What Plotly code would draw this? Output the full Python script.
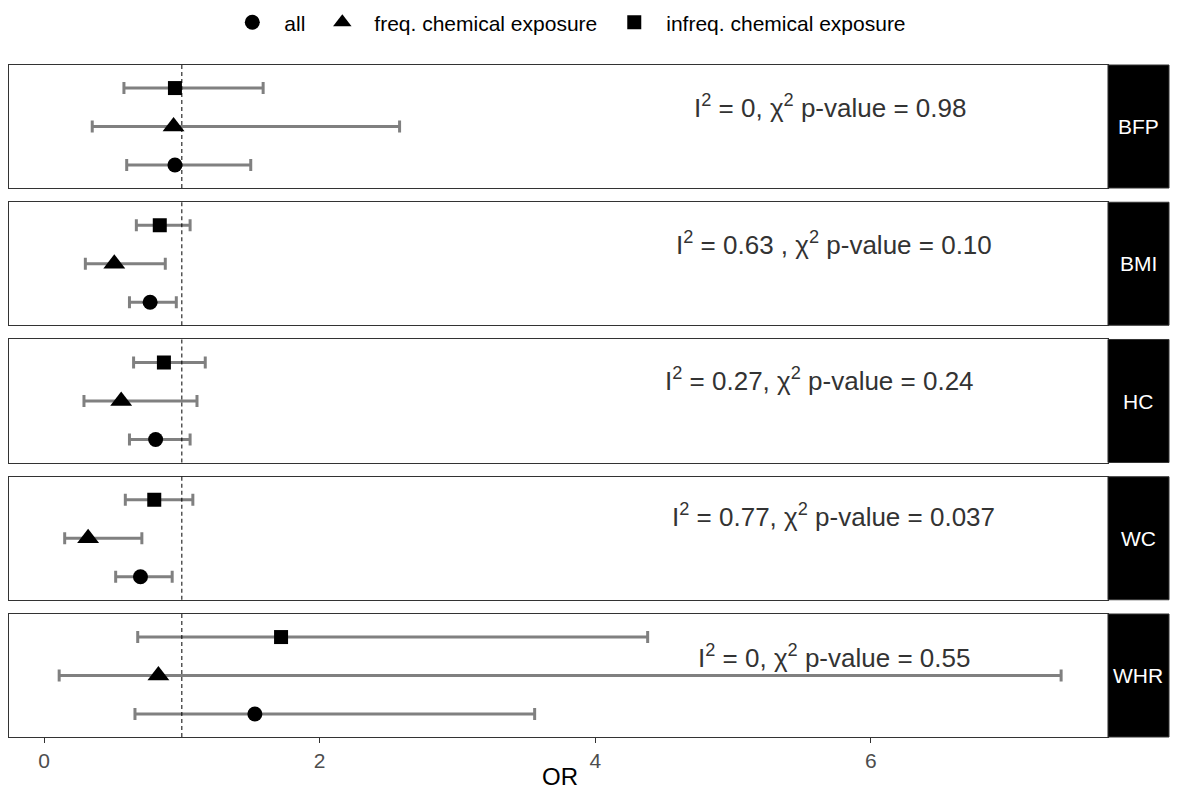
import plotly.graph_objects as go
from plotly.subplots import make_subplots

# ---- data ----
panels = ["BFP", "BMI", "HC", "WC", "WHR"]
groups = ["all", "freq. chemical exposure", "infreq. chemical exposure"]

or_all = [0.95, 0.77, 0.81, 0.70, 1.53]
lo_all = [0.60, 0.62, 0.62, 0.52, 0.66]
hi_all = [1.50, 0.96, 1.06, 0.93, 3.56]

or_freq = [0.94, 0.51, 0.56, 0.32, 0.83]
lo_freq = [0.35, 0.30, 0.29, 0.15, 0.11]
hi_freq = [2.58, 0.88, 1.11, 0.71, 7.38]

or_infreq = [0.95, 0.84, 0.87, 0.80, 1.72]
lo_infreq = [0.58, 0.67, 0.65, 0.59, 0.68]
hi_infreq = [1.59, 1.06, 1.17, 1.08, 4.38]

het_labels = [
    "I<sup>2</sup> = 0, χ<sup>2</sup> p-value = 0.98",
    "I<sup>2</sup> = 0.63 , χ<sup>2</sup> p-value = 0.10",
    "I<sup>2</sup> = 0.27, χ<sup>2</sup> p-value = 0.24",
    "I<sup>2</sup> = 0.77, χ<sup>2</sup> p-value = 0.037",
    "I<sup>2</sup> = 0, χ<sup>2</sup> p-value = 0.55",
]
x_ticks = [0, 2, 4, 6]
x_title = "OR"

# ---- layout constants ----
label_x = [5.70, 5.73, 5.63, 5.73, 5.73]
label_y = [2.52, 2.52, 2.56, 2.58, 2.50]
xrange_ = [-0.254, 7.72]
FONT = "Liberation Sans, Arial, sans-serif"
series = [
    (groups[0], or_all, lo_all, hi_all, 1, "circle", 15),
    (groups[1], or_freq, lo_freq, hi_freq, 2, "triangle-up", 19),
    (groups[2], or_infreq, lo_infreq, hi_infreq, 3, "square", 14),
]

fig = make_subplots(rows=5, cols=1, shared_xaxes=True, vertical_spacing=0.0212)
xdom = [0, 0.9474]

for i, p in enumerate(panels):
    r = i + 1
    for name, est, lo, hi, lvl, sym, sz in series:
        fig.add_trace(go.Scatter(
            x=[est[i]], y=[lvl], mode="markers", name=name,
            legendgroup=name, showlegend=(i == 0),
            marker=dict(symbol=sym, size=sz, color="black"),
            error_x=dict(type="data", symmetric=False,
                         array=[hi[i] - est[i]], arrayminus=[est[i] - lo[i]],
                         color="#808080", thickness=3, width=6),
        ), row=r, col=1)
    axn = "" if r == 1 else str(r)
    # reference dashed line at OR = 1
    fig.add_shape(type="line", x0=1, x1=1, y0=0, y1=1,
                  xref="x" + axn, yref="y" + axn + " domain",
                  line=dict(color="black", width=1, dash="4px,3px"))
    # strip
    fig.add_shape(type="rect", x0=xdom[1], x1=1, y0=0, y1=1,
                  xref="paper", yref="y" + axn + " domain",
                  fillcolor="black", line=dict(color="#333333", width=1))
    fig.add_annotation(x=(xdom[1] + 1) / 2, y=0.5, xref="paper", yref="y" + axn + " domain",
                       xanchor="center", yanchor="middle",
                       text=p, showarrow=False,
                       font=dict(family=FONT, size=21, color="white"))
    fig.add_annotation(x=label_x[i], y=label_y[i], xref="x" + axn, yref="y" + axn,
                       xanchor="center", yanchor="middle",
                       text=het_labels[i], showarrow=False,
                       font=dict(family=FONT, size=26, color="#333333"))
    fig.update_yaxes(range=[0.4, 3.6], showticklabels=False, ticks="",
                     showgrid=False, zeroline=False, showline=True, mirror=True,
                     linecolor="#333333", linewidth=1, row=r, col=1)
    fig.update_xaxes(range=xrange_, domain=xdom, showgrid=False, zeroline=False,
                     showline=True, mirror=True, linecolor="#333333", linewidth=1,
                     tickvals=x_ticks, row=r, col=1)
    if r < 5:
        fig.update_xaxes(showticklabels=False, ticks="", row=r, col=1)
    else:
        fig.update_xaxes(ticks="outside", ticklen=5, tickcolor="#333333",
                         tickfont=dict(family=FONT, size=21, color="#4d4d4d"),
                         row=r, col=1)

# x-axis title (placed as annotation so it sits at the reference position)
fig.add_annotation(x=0.475, y=-0.0595, xref="paper", yref="paper",
                   xanchor="center", yanchor="middle", showarrow=False,
                   text=x_title, font=dict(family=FONT, size=24, color="black"))

# page body has an 8px margin, so the figure is sized to fit inside it
fig.update_layout(
    width=1171, height=782,
    margin=dict(l=1, r=10, t=57, b=53, autoexpand=False),
    paper_bgcolor="white", plot_bgcolor="white",
    font=dict(family=FONT),
    legend=dict(orientation="h", x=0.48, xanchor="center", y=1.063, yanchor="middle",
                font=dict(family=FONT, size=21, color="black"),
                itemwidth=54, tracegroupgap=0),
    showlegend=True,
)

fig.write_html("out.html")
